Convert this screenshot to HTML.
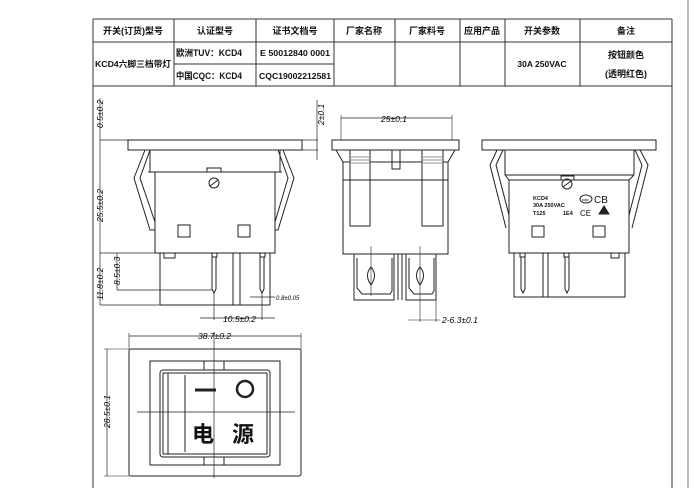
<!DOCTYPE html>
<html><head><meta charset="utf-8"><style>
html,body{margin:0;padding:0;background:#fff;width:694px;height:488px;overflow:hidden}
svg{display:block}
.t{font-family:"Liberation Sans","Noto Sans CJK SC",sans-serif;font-weight:bold;font-size:9px;fill:#111}
.d{font-family:"Liberation Sans",sans-serif;font-style:italic;font-size:8.5px;fill:#000}
</style></head><body>
<svg width="694" height="488" viewBox="0 0 694 488" xmlns="http://www.w3.org/2000/svg">
<g fill="none" stroke="#333" stroke-width="1">
<line x1="93" y1="19" x2="93" y2="488"/>
<line x1="672" y1="19" x2="672" y2="488"/>
<line x1="688" y1="0" x2="688" y2="488" stroke="#777"/>
<line x1="93" y1="19" x2="672" y2="19"/>
<line x1="93" y1="42" x2="672" y2="42"/>
<line x1="93" y1="86" x2="672" y2="86"/>
<line x1="174" y1="64" x2="334" y2="64"/>
<line x1="174" y1="19" x2="174" y2="86"/><line x1="256" y1="19" x2="256" y2="86"/>
<line x1="334" y1="19" x2="334" y2="86"/><line x1="395" y1="19" x2="395" y2="86"/>
<line x1="460" y1="19" x2="460" y2="86"/><line x1="505" y1="19" x2="505" y2="86"/>
<line x1="580" y1="19" x2="580" y2="86"/>
</g>
<g class="t" text-anchor="middle">
<text x="133" y="34">开关(订货)型号</text><text x="215" y="34">认证型号</text><text x="295" y="34">证书文档号</text>
<text x="364" y="34">厂家名称</text><text x="427" y="34">厂家料号</text><text x="482" y="34">应用产品</text>
<text x="542" y="34">开关参数</text><text x="626" y="34">备注</text>
<text x="133" y="67" font-size="8.5" textLength="76" lengthAdjust="spacingAndGlyphs">KCD4六脚三档带灯</text>
<text x="295" y="56" font-size="8" textLength="70" lengthAdjust="spacingAndGlyphs">E 50012840 0001</text><text x="295" y="79" font-size="8" textLength="72" lengthAdjust="spacingAndGlyphs">CQC19002212581</text>
<text x="542" y="67" font-size="8.5">30A 250VAC</text>
<text x="626" y="58">按钮颜色</text><text x="626" y="77">(透明红色)</text>
</g>
<g class="t" text-anchor="start" font-size="8.5"><text x="176" y="56" textLength="66" lengthAdjust="spacingAndGlyphs">欧洲TUV：KCD4</text><text x="176" y="79" textLength="66" lengthAdjust="spacingAndGlyphs">中国CQC：KCD4</text></g>

<g fill="none" stroke="#222" stroke-width="1">
<rect x="128" y="140" width="174" height="10"/>
<path d="M145 150 L134 178 L150 230 L155 230 M150 150 L140 178 L155 222"/>
<path d="M283 150 L294 178 L278 230 L275 230 M278 150 L288 178 L275 222"/>
<line x1="148" y1="172" x2="282" y2="172"/>
<line x1="150" y1="150" x2="150" y2="172"/><line x1="280" y1="150" x2="280" y2="172"/>
<rect x="155" y="172" width="120" height="81"/>
<path d="M207 172 v-4 h14 v4"/><circle cx="214" cy="183" r="5"/><line x1="210" y1="186" x2="218" y2="180"/>
<rect x="178" y="225" width="12" height="12"/><rect x="238" y="225" width="12" height="12"/>
<path d="M160 253 v52 M270 253 v52 M233 253 v52 M240 253 v52"/>
<rect x="164" y="253" width="11" height="5"/>
<path d="M212 253 v4 h5 v-4 M212 257 v32 l2 4 l2 -4 v-32"/>
<path d="M260 253 v4 h5 v-4 M260 257 v32 l2 4 l2 -4 v-32"/>
<line x1="160" y1="305" x2="270" y2="305"/>
<g stroke-width="0.7">
<line x1="100" y1="98" x2="100" y2="305"/><line x1="100" y1="140" x2="128" y2="140"/><line x1="100" y1="253" x2="155" y2="253"/>
<line x1="100" y1="305" x2="160" y2="305"/><line x1="117" y1="253" x2="117" y2="290"/><line x1="117" y1="290" x2="212" y2="290"/>
<line x1="302" y1="140" x2="318" y2="140"/><line x1="302" y1="150" x2="318" y2="150"/><line x1="317" y1="100" x2="317" y2="160"/>
<line x1="214" y1="293" x2="214" y2="320"/><line x1="262" y1="293" x2="262" y2="320"/><line x1="200" y1="318" x2="275" y2="318"/>
<line x1="250" y1="297" x2="275" y2="297"/>
</g>
<rect x="332" y="140" width="127" height="10"/>
<path d="M336 150 L343 162 M455 150 L448 162"/>
<rect x="343" y="162" width="105" height="92"/>
<rect x="350" y="150" width="20" height="76" fill="#fff"/><rect x="422" y="150" width="21" height="76" fill="#fff"/>
<path d="M351 157 h18 M351 160 h18 M351 163 h18 M423 157 h19 M423 160 h19 M423 163 h19" stroke-width="0.6"/>
<path d="M392 150 v19 h8 v-19"/>
<line x1="343" y1="180" x2="448" y2="180"/>
<path d="M354 254 v46 h40 v-46 M398 254 v46 M402 254 v46 M406 254 v46 h30 v-46"/>
<path d="M357 258 v30 l5 6 h28 l2 -3 v-33"/><path d="M409 258 v30 l5 6 h18 l2 -3 v-33"/>
<path d="M371 267 q-7 8 0 18 q7 -10 0 -18 M420 267 q-7 8 0 18 q7 -10 0 -18"/>
<line x1="371" y1="246" x2="371" y2="296" stroke-width="0.6"/><line x1="420" y1="246" x2="420" y2="322" stroke-width="0.6"/>
<line x1="436" y1="300" x2="436" y2="322" stroke-width="0.6"/><line x1="408" y1="320" x2="440" y2="320" stroke-width="0.6"/>
<line x1="341" y1="118" x2="452" y2="118" stroke-width="0.7"/><line x1="341" y1="115" x2="341" y2="140" stroke-width="0.6"/><line x1="452" y1="115" x2="452" y2="140" stroke-width="0.6"/>
<rect x="482" y="140" width="174" height="10"/>
<path d="M497 150 L490 165 L506 228 M503 150 L496 165 L509 215"/>
<path d="M640 150 L648 165 L632 228 M635 150 L642 165 L629 215"/>
<line x1="505" y1="150" x2="505" y2="175"/><line x1="634" y1="150" x2="634" y2="175"/>
<path d="M505 175 L509 180 L629 180 L634 175 M505 175 L634 175"/>
<rect x="509" y="180" width="120" height="73"/>
<path d="M561 180 v-4 h13 v4"/><circle cx="567" cy="184" r="5"/><line x1="563" y1="187" x2="571" y2="181"/>
<rect x="532" y="226" width="12" height="11"/><rect x="593" y="226" width="12" height="11"/>
<path d="M514 253 v44 h111 v-44 M543 253 v44 M548 253 v44"/>
<path d="M520 253 v4 h5 v-4 M521 257 v32 l2 4 l2 -4 v-32 M564 253 v4 h5 v-4 M565 257 v32 l2 4 l2 -4 v-32"/>
<rect x="611" y="253" width="8" height="5"/>
<ellipse cx="586" cy="199" rx="6" ry="4"/>
<path d="M599 214 l5 -8 l5 8 z" fill="#222"/>
</g>
<g class="t" text-anchor="start"><text x="533" y="200" font-size="5.5">KCD4</text><text x="533" y="207" font-size="5.5">30A 250VAC</text><text x="533" y="215" font-size="5.5">T125</text><text x="563" y="215" font-size="5.5">1E4</text><text x="582" y="201" font-size="3">CQC</text><text x="594" y="203" font-size="10" font-weight="normal">CB</text><text x="580" y="216" font-size="8" font-weight="normal">CE</text></g>
<g fill="none" stroke="#222" stroke-width="1">
<rect x="129" y="349" width="172" height="127" rx="2"/>
<rect x="150" y="361" width="130" height="104"/>
<rect x="160" y="370" width="110" height="87" rx="3"/>
<rect x="163" y="373" width="104" height="81"/>
<line x1="168" y1="373" x2="168" y2="454"/><line x1="185" y1="375" x2="185" y2="452"/>
<path d="M204 361 v9 M224 361 v9 M204 457 v8 M224 457 v8"/>
<line x1="214" y1="332" x2="214" y2="478" stroke-width="0.7"/><line x1="137" y1="412" x2="295" y2="412" stroke-width="0.7"/>
<circle cx="245" cy="389" r="8" stroke-width="2.5"/>
<line x1="195" y1="390" x2="216" y2="390" stroke-width="3"/>
<line x1="129" y1="336" x2="301" y2="336" stroke-width="0.7"/><line x1="129" y1="333" x2="129" y2="349" stroke-width="0.6"/><line x1="301" y1="333" x2="301" y2="349" stroke-width="0.6"/>
<line x1="107" y1="349" x2="107" y2="476" stroke-width="0.7"/><line x1="104" y1="349" x2="129" y2="349" stroke-width="0.6"/><line x1="104" y1="476" x2="129" y2="476" stroke-width="0.6"/>
</g>
<g font-family="'Liberation Sans','Noto Sans CJK SC',sans-serif" font-size="22" fill="#111" font-weight="bold"><text x="192" y="442">电</text><text x="232" y="442">源</text></g>
<g class="d">
<text transform="translate(103,128) rotate(-90)">0.5±0.2</text>
<text transform="translate(103,222) rotate(-90)">25.5±0.2</text>
<text transform="translate(103,300) rotate(-90)">11.8±0.2</text>
<text transform="translate(120,285) rotate(-90)">8.5±0.3</text>
<text transform="translate(324,125) rotate(-90)">2±0.1</text>
<text x="276" y="300" font-size="6">0.8±0.05</text>
<text x="223" y="322">10.5±0.2</text>
<text x="381" y="122">25±0.1</text>
<text x="442" y="323">2-6.3±0.1</text>
<text x="198" y="339">38.7±0.2</text>
<text transform="translate(110,428) rotate(-90)">28.5±0.1</text>
</g>
</svg>
</body></html>
